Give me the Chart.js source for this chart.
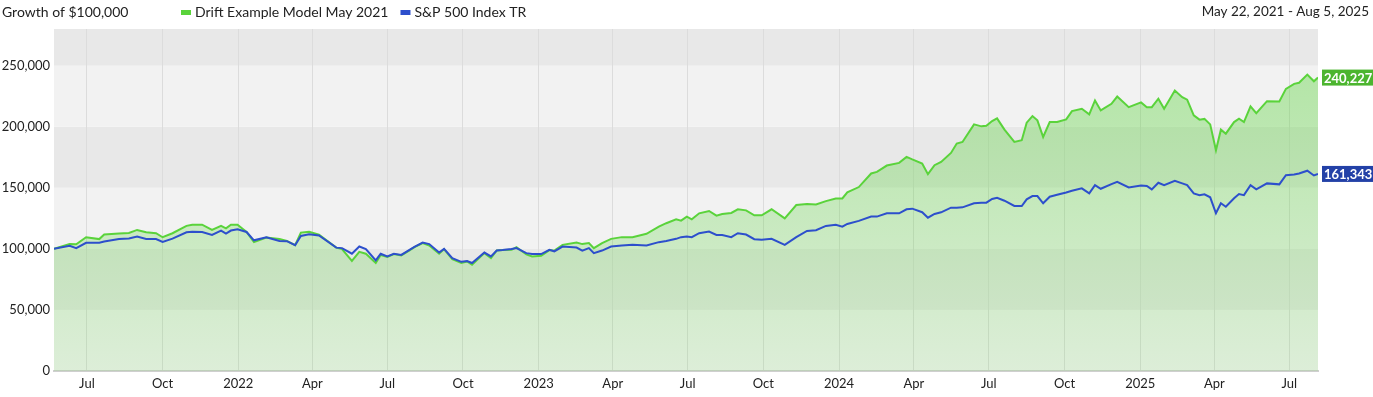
<!DOCTYPE html>
<html>
<head>
<meta charset="utf-8">
<script src="https://cdn.jsdelivr.net/npm/chart.js@4"></script>
<style>
  html, body { margin: 0; padding: 0; background: #fff; }
  #wrap { width: 1373px; height: 397px; }
</style>
</head>
<body>
<div id="wrap"><canvas id="growthChart"></canvas></div>
<script>
const dates = [
  "2021-05-22", "2021-06-10", "2021-06-18", "2021-06-30", "2021-07-16", "2021-07-22", "2021-08-09", "2021-08-21",
  "2021-08-31", "2021-09-11", "2021-09-23", "2021-10-01", "2021-10-13", "2021-10-30", "2021-11-06", "2021-11-18",
  "2021-11-30", "2021-12-11", "2021-12-17", "2021-12-23", "2021-12-31", "2022-01-11", "2022-01-20", "2022-02-04",
  "2022-02-20", "2022-03-01", "2022-03-11", "2022-03-18", "2022-03-28", "2022-04-09", "2022-04-30", "2022-05-07",
  "2022-05-19", "2022-05-28", "2022-06-05", "2022-06-17", "2022-06-23", "2022-07-01", "2022-07-09", "2022-07-18",
  "2022-07-28", "2022-08-03", "2022-08-13", "2022-08-21", "2022-09-02", "2022-09-08", "2022-09-18", "2022-09-29",
  "2022-10-06", "2022-10-12", "2022-10-27", "2022-11-04", "2022-11-11", "2022-11-18", "2022-11-29", "2022-12-05",
  "2022-12-17", "2022-12-24", "2023-01-04", "2023-01-14", "2023-01-20", "2023-01-30", "2023-02-16", "2023-02-23",
  "2023-03-03", "2023-03-09", "2023-03-19", "2023-03-30", "2023-04-12", "2023-04-25", "2023-05-12", "2023-05-27",
  "2023-06-05", "2023-06-17", "2023-06-23", "2023-06-30", "2023-07-06", "2023-07-15", "2023-07-27", "2023-08-05",
  "2023-08-12", "2023-08-23", "2023-08-31", "2023-09-10", "2023-09-20", "2023-09-29", "2023-10-11", "2023-10-27",
  "2023-11-10", "2023-11-23", "2023-12-04", "2023-12-16", "2023-12-28", "2024-01-05", "2024-01-11", "2024-01-25",
  "2024-02-09", "2024-02-16", "2024-02-28", "2024-03-14", "2024-03-23", "2024-03-30", "2024-04-11", "2024-04-18",
  "2024-04-26", "2024-05-04", "2024-05-16", "2024-05-23", "2024-05-30", "2024-06-13", "2024-06-22", "2024-06-28",
  "2024-07-05", "2024-07-11", "2024-07-20", "2024-08-01", "2024-08-10", "2024-08-16", "2024-08-23", "2024-08-29",
  "2024-09-05", "2024-09-13", "2024-09-22", "2024-10-03", "2024-10-10", "2024-10-22", "2024-10-31", "2024-11-07",
  "2024-11-14", "2024-11-27", "2024-12-04", "2024-12-18", "2025-01-02", "2025-01-09", "2025-01-15", "2025-01-23",
  "2025-01-30", "2025-02-12", "2025-02-21", "2025-02-27", "2025-03-07", "2025-03-14", "2025-03-20", "2025-03-27",
  "2025-04-03", "2025-04-09", "2025-04-15", "2025-04-25", "2025-05-01", "2025-05-07", "2025-05-15", "2025-05-22",
  "2025-06-04", "2025-06-19", "2025-06-27", "2025-07-07", "2025-07-13", "2025-07-23", "2025-07-31", "2025-08-05"
];

// values in thousands of dollars
const driftModel = [
  100.0, 104.0, 103.8, 109.5, 108.0, 111.7, 112.5, 113.0,
  115.5, 113.6, 112.8, 109.5, 112.8, 118.8, 119.8, 119.8,
  115.5, 118.8, 116.8, 119.8, 119.8, 113.9, 105.5, 109.2,
  108.0, 106.5, 103.0, 113.3, 114.0, 111.7, 101.0, 99.8,
  90.2, 97.6, 96.0, 88.4, 95.0, 93.3, 95.7, 94.6,
  98.7, 101.4, 104.7, 102.7, 96.0, 99.8, 91.6, 88.4,
  89.7, 87.0, 96.5, 92.4, 98.7, 99.0, 99.2, 101.4,
  95.4, 93.8, 94.3, 99.0, 98.5, 103.3, 105.2, 103.9,
  104.7, 100.6, 104.7, 108.2, 109.6, 109.6, 112.3, 118.2,
  121.0, 124.2, 123.1, 126.4, 124.2, 129.1, 131.0, 127.2,
  128.5, 129.4, 132.4, 131.5, 127.5, 127.5, 132.4, 125.0,
  135.9, 136.7, 136.3, 139.1, 141.3, 141.3, 146.2, 150.6,
  161.7, 163.0, 168.2, 170.4, 175.3, 173.2, 169.9, 161.2,
  168.5, 171.2, 178.5, 186.2, 187.5, 201.9, 200.3, 200.7,
  204.6, 206.8, 197.6, 187.5, 188.9, 203.3, 208.7, 205.2,
  191.6, 203.8, 203.8, 206.0, 212.8, 214.7, 210.1, 221.5,
  213.3, 218.8, 224.7, 216.0, 219.9, 216.0, 216.0, 222.9,
  214.7, 229.6, 224.2, 222.1, 209.3, 205.8, 206.4, 201.9,
  180.7, 197.6, 194.3, 203.8, 206.6, 203.8, 216.6, 211.1,
  220.9, 220.6, 231.0, 235.1, 236.0, 242.7, 237.2, 240.227
];

const sp500 = [
  100.0, 102.5, 100.6, 105.0, 105.0, 106.0, 108.0, 108.5,
  110.0, 108.0, 108.0, 105.7, 108.4, 113.6, 114.0, 113.8,
  111.4, 115.0, 112.5, 115.0, 116.0, 113.8, 107.0, 109.5,
  106.5, 106.3, 103.0, 110.6, 112.0, 110.9, 101.0, 100.6,
  96.0, 101.9, 99.8, 90.5, 96.0, 93.8, 96.0, 95.0,
  99.2, 101.6, 105.1, 103.9, 97.0, 100.0, 92.4, 89.4,
  90.0, 88.4, 97.0, 93.8, 98.7, 99.0, 99.8, 100.6,
  96.5, 95.7, 95.7, 99.2, 98.0, 101.9, 101.1, 98.6,
  100.6, 96.5, 98.6, 101.9, 102.7, 103.3, 102.7, 105.5,
  106.5, 108.2, 109.6, 110.1, 109.6, 112.8, 114.1, 111.4,
  111.4, 109.6, 112.8, 111.7, 107.9, 107.5, 108.2, 103.3,
  109.6, 114.7, 115.3, 118.8, 119.8, 118.2, 120.4, 122.9,
  126.4, 126.4, 129.1, 129.1, 132.4, 132.9, 130.0, 125.5,
  128.6, 129.9, 133.7, 133.7, 134.0, 137.3, 137.8, 137.8,
  140.8, 141.8, 139.4, 135.1, 135.1, 140.5, 143.2, 143.2,
  137.3, 142.7, 144.3, 146.2, 147.6, 149.5, 145.4, 152.2,
  149.2, 153.0, 154.9, 150.3, 151.9, 151.5, 148.7, 154.1,
  152.2, 155.7, 153.6, 152.2, 145.4, 144.0, 144.6, 142.2,
  129.1, 137.3, 134.5, 141.4, 144.9, 144.0, 152.2, 148.7,
  153.6, 152.8, 160.3, 160.9, 161.7, 164.0, 160.1, 161.343
];

const tickDates = [
  "2021-07-01", "2021-10-01", "2022-01-01", "2022-04-01", "2022-07-01", "2022-10-01",
  "2023-01-01", "2023-04-01", "2023-07-01", "2023-10-01", "2024-01-01", "2024-04-01",
  "2024-07-01", "2024-10-01", "2025-01-01", "2025-04-01", "2025-07-01"
];
const tickLabels = [
  "Jul", "Oct", "2022", "Apr", "Jul", "Oct",
  "2023", "Apr", "Jul", "Oct", "2024", "Apr",
  "Jul", "Oct", "2025", "Apr", "Jul"
];
const yTicks = [0, 50000, 100000, 150000, 200000, 250000];

const seriesNames = ["Drift Example Model May 2021", "S&P 500 Index TR"];
const titleText = "Growth of $100,000";
const rangeText = "May 22, 2021 - Aug 5, 2025";

const GREEN = "#5ad33b";
const BLUE = "#2d4fcc";
const FONT = "Lato, 'Noto Sans', sans-serif";

const dayMs = (s) => Date.parse(s + "T00:00:00Z");
const toPoints = (vals) => vals.map((v, i) => ({ x: dayMs(dates[i]), y: v * 1000 }));
const tickMs = tickDates.map(dayMs);

// alternating grey bands behind the plot
const bandsPlugin = {
  id: "bands",
  beforeDraw(chart) {
    const { ctx, chartArea: a, scales: { y } } = chart;
    ctx.save();
    let k = 0;
    for (let v = 0; v < y.max; v += 50000, k++) {
      const top = y.getPixelForValue(Math.min(v + 50000, y.max));
      const bot = y.getPixelForValue(v);
      ctx.fillStyle = k % 2 === 0 ? "#f2f2f2" : "#e8e8e8";
      ctx.fillRect(a.left, top, a.right - a.left, bot - top);
    }
    ctx.restore();
  }
};

// header: title, legend, date range
const headerPlugin = {
  id: "header",
  afterDraw(chart) {
    const ctx = chart.ctx;
    ctx.save();
    ctx.font = "14px " + FONT;
    ctx.fillStyle = "#222";
    ctx.textBaseline = "middle";
    ctx.textAlign = "left";
    ctx.fillText(titleText, 2, 12);

    let x = 181;
    [GREEN, BLUE].forEach((c, i) => {
      ctx.fillStyle = c;
      ctx.fillRect(x, 10, 10, 5);
      ctx.fillStyle = "#222";
      ctx.fillText(seriesNames[i], x + 14, 12);
      x += 14 + ctx.measureText(seriesNames[i]).width + 12;
    });

    ctx.font = "13.5px " + FONT;
    ctx.textAlign = "right";
    ctx.fillText(rangeText, 1369, 12);
    ctx.restore();
  }
};

// last value boxes to the right of the plot
const endLabelPlugin = {
  id: "endLabels",
  afterDraw(chart) {
    const { ctx, chartArea: a, scales: { y } } = chart;
    const boxColors = ["#4cb52f", "#2341a7"];
    ctx.save();
    ctx.font = "bold 13px " + FONT;
    ctx.textBaseline = "middle";
    ctx.textAlign = "left";
    chart.data.datasets.forEach((ds, i) => {
      const last = ds.data[ds.data.length - 1].y;
      const py = y.getPixelForValue(last);
      const txt = Math.round(last).toLocaleString("en-US");
      ctx.fillStyle = boxColors[i];
      ctx.fillRect(a.right + 4, py - 8, 1373 - a.right - 4, 16);
      ctx.fillStyle = "#fff";
      ctx.fillText(txt, a.right + 6, py + 1);
    });
    ctx.restore();
  }
};

new Chart("growthChart", {
  type: "line",
  data: {
    datasets: [
      {
        label: seriesNames[0],
        data: toPoints(driftModel),
        order: 2,
        borderColor: GREEN,
        borderWidth: 2,
        pointRadius: 0,
        tension: 0,
        fill: "origin",
        backgroundColor: (ctx) => {
          const a = ctx.chart.chartArea;
          if (!a) return "rgba(90,211,59,0.3)";
          const g = ctx.chart.ctx.createLinearGradient(0, a.top, 0, a.bottom);
          g.addColorStop(0, "rgba(90,211,59,0.45)");
          g.addColorStop(1, "rgba(90,211,59,0.14)");
          return g;
        }
      },
      {
        label: seriesNames[1],
        data: toPoints(sp500),
        order: 1,
        borderColor: BLUE,
        borderWidth: 2,
        pointRadius: 0,
        tension: 0,
        fill: false
      }
    ]
  },
  options: {
    responsive: true,
    maintainAspectRatio: false,
    animation: false,
    layout: { padding: { top: 29, right: 55, left: 0, bottom: 0 } },
    plugins: {
      legend: { display: false },
      tooltip: { enabled: false }
    },
    scales: {
      x: {
        type: "linear",
        min: dayMs("2021-05-22"),
        max: dayMs("2025-08-05"),
        afterBuildTicks: (scale) => { scale.ticks = tickMs.map((v) => ({ value: v })); },
        afterFit: (scale) => { scale.height = 26; },
        ticks: {
          autoSkip: false,
          maxRotation: 0,
          padding: 5,
          color: "#222",
          font: { family: FONT, size: 13 },
          callback: (v) => tickLabels[tickMs.indexOf(v)]
        },
        grid: { color: "#dcdcdc", drawTicks: false },
        border: { color: "#cfcfcf", width: 2 }
      },
      y: {
        min: 0,
        max: 280000,
        afterBuildTicks: (scale) => { scale.ticks = yTicks.map((v) => ({ value: v })); },
        afterFit: (scale) => { scale.width = 54; },
        ticks: {
          padding: 4,
          color: "#222",
          font: { family: FONT, size: 13 },
          callback: (v) => v.toLocaleString("en-US")
        },
        grid: { display: false, drawTicks: false },
        border: { display: false }
      }
    }
  },
  plugins: [bandsPlugin, headerPlugin, endLabelPlugin]
});
</script>
</body>
</html>
